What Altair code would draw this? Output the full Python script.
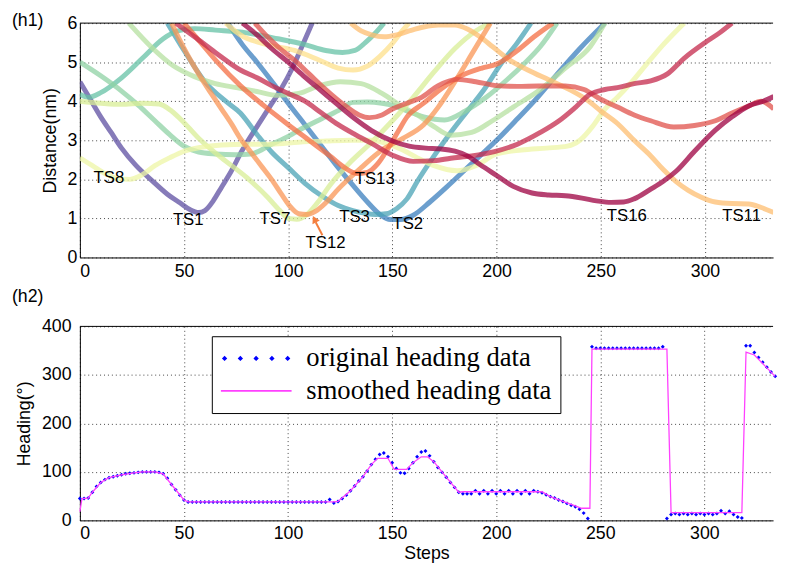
import altair as alt
import pandas as pd

# ---------------- (h1) distance curves: steps / distance (nm) ----------------
TS1_x = [0, 5, 10, 15, 20, 27, 35, 42, 48, 53, 57, 60, 64, 68, 72, 78, 85, 91, 96, 102, 107, 111.5]
TS1_y = [4.5, 4.05, 3.6, 3.2, 2.8, 2.35, 1.95, 1.62, 1.4, 1.22, 1.15, 1.2, 1.45, 1.8, 2.15, 2.75, 3.35, 3.85, 4.26, 4.85, 5.45, 6.0]
TS2_x = [71, 78, 85, 93, 100, 108, 116, 124, 131, 138, 144, 149, 154, 160, 168, 176, 184, 192, 200, 210, 220, 230, 240, 252]
TS2_y = [6.0, 5.45, 5.0, 4.45, 3.95, 3.4, 2.85, 2.3, 1.85, 1.42, 1.1, 0.97, 0.97, 1.08, 1.42, 1.8, 2.2, 2.6, 3.0, 3.55, 4.12, 4.75, 5.35, 6.0]
TS3_x = [42, 50, 60, 70, 77, 85, 92, 100, 108, 116, 124, 131, 137, 142, 147, 152, 157, 162, 170, 178, 186, 194, 202, 210, 216.5]
TS3_y = [6.0, 5.3, 4.5, 4.0, 3.7, 3.15, 2.7, 2.3, 1.9, 1.58, 1.33, 1.2, 1.13, 1.1, 1.12, 1.25, 1.5, 1.95, 2.6, 3.2, 3.75, 4.3, 4.95, 5.5, 6.0]
TS4_x = [0, 4, 10, 20, 30, 40, 47, 55, 65, 80, 95, 108, 118, 126, 132, 137, 141, 146]
TS4_y = [4.18, 4.1, 4.22, 4.6, 5.1, 5.6, 5.8, 5.86, 5.82, 5.75, 5.6, 5.45, 5.3, 5.25, 5.3, 5.5, 5.7, 6.0]
TS5_x = [0, 10, 20, 28, 36, 43, 50, 57, 65, 75, 82, 92, 100, 108, 116, 124, 131, 138, 145, 150, 157, 165, 175, 185, 195, 205, 213, 221, 229]
TS5_y = [5.0, 4.65, 4.26, 3.9, 3.5, 3.15, 2.85, 2.7, 2.65, 2.63, 2.65, 2.9, 3.1, 3.34, 3.55, 3.76, 3.97, 3.98, 3.95, 3.9, 3.75, 3.6, 3.52, 3.75, 4.1, 4.55, 4.95, 5.4, 6.0]
TS6_x = [23.5, 35, 45, 55, 65, 75, 85, 95, 105, 115, 125, 135, 145, 155, 162, 170, 178, 188, 198, 208, 221, 233, 245, 252]
TS6_y = [6.0, 5.35, 4.9, 4.63, 4.45, 4.35, 4.25, 4.15, 4.2, 4.4, 4.5, 4.45, 4.2, 3.85, 3.65, 3.35, 3.13, 3.2, 3.5, 3.85, 4.3, 4.85, 5.4, 6.0]
TS7_x = [0, 10, 20, 30, 38, 44, 50, 58, 68, 80, 90, 96, 100, 104, 109, 114, 120, 130, 140, 150, 160, 170, 180, 190, 197]
TS7_y = [4.0, 3.95, 3.92, 3.95, 3.93, 3.75, 3.45, 3.0, 2.55, 2.05, 1.55, 1.2, 1.0, 0.98, 1.1, 1.4, 1.85, 2.45, 2.95, 3.5, 4.1, 4.75, 5.35, 5.8, 6.0]
TS8_x = [0, 6, 12, 18, 24, 30, 36, 43, 50, 58, 68, 80, 92, 105, 118, 130, 140, 148, 155, 162, 170, 181, 190, 200, 212, 224, 234, 240, 246, 252, 258, 265, 272, 280, 290]
TS8_y = [2.55, 2.35, 2.15, 2.02, 2.0, 2.12, 2.35, 2.55, 2.72, 2.82, 2.88, 2.9, 2.9, 2.95, 2.98, 3.0, 3.0, 2.9, 2.75, 2.55, 2.35, 2.22, 2.35, 2.65, 2.75, 2.8, 2.85, 3.0, 3.35, 3.8, 4.1, 4.5, 4.95, 5.45, 6.0]
TS10_x = [70, 77, 90, 103, 115, 124, 131, 138, 144, 150, 155, 158]
TS10_y = [6.0, 5.7, 5.45, 5.3, 5.05, 4.85, 4.8, 4.9, 5.15, 5.48, 5.82, 6.0]
TS11_x = [130, 135, 140, 146, 152, 158, 165, 172, 180, 186, 192, 198, 205, 215, 225, 235, 243, 250, 258, 266, 274, 280, 286, 292, 298, 305, 313, 321, 327, 333]
TS11_y = [6.0, 5.8, 5.7, 5.65, 5.7, 5.8, 5.9, 5.95, 5.95, 5.85, 5.65, 5.4, 5.1, 4.8, 4.55, 4.3, 4.05, 3.75, 3.43, 3.0, 2.6, 2.25, 1.95, 1.72, 1.55, 1.42, 1.38, 1.37, 1.28, 1.15]
TS12_x = [44, 50, 57, 63, 68, 73, 77, 82, 87, 92, 97, 101, 105, 109, 113, 118, 124, 135, 145, 155, 165, 172, 180, 188, 197]
TS12_y = [6.0, 5.35, 4.7, 4.2, 3.8, 3.4, 3.05, 2.7, 2.35, 2.0, 1.6, 1.3, 1.12, 1.1, 1.18, 1.4, 1.75, 2.3, 2.75, 3.05, 3.4, 3.85, 4.5, 5.2, 6.0]
TS13_x = [50, 58, 66, 77, 88, 100, 110, 120, 127, 133, 138, 143, 148, 153, 157, 165, 173, 183, 193, 200, 210, 218, 227]
TS13_y = [6.0, 5.5, 5.0, 4.4, 3.9, 3.4, 3.0, 2.6, 2.3, 2.15, 2.18, 2.4, 2.8, 3.25, 3.6, 3.95, 4.3, 4.65, 4.85, 4.95, 5.3, 5.65, 6.0]
TS14_x = [84, 90, 96, 103, 110, 118, 127, 134, 139, 145, 150, 157, 164, 172, 181, 190, 200, 210, 220, 233, 242, 250, 258, 266, 274, 285, 295, 305, 313, 321, 327, 333]
TS14_y = [6.0, 5.65, 5.35, 5.05, 4.7, 4.3, 3.9, 3.65, 3.58, 3.65, 3.8, 3.95, 4.1, 4.4, 4.56, 4.5, 4.4, 4.38, 4.39, 4.39, 4.3, 4.05, 3.85, 3.65, 3.5, 3.34, 3.38, 3.5, 3.7, 3.88, 4.0, 3.8]
TS15_x = [46, 55, 65, 77, 85, 92, 100, 108, 116, 124, 132, 140, 150, 160, 170, 178, 188, 199, 210, 221, 230, 238, 245, 252, 258, 266, 274, 282, 290, 300, 307, 313]
TS15_y = [6.0, 5.65, 5.25, 4.8, 4.6, 4.4, 4.2, 4.0, 3.7, 3.4, 3.15, 2.92, 2.62, 2.46, 2.48, 2.54, 2.6, 2.71, 2.9, 3.2, 3.5, 3.85, 4.18, 4.3, 4.35, 4.45, 4.52, 4.7, 5.1, 5.5, 5.75, 6.0]
TS16_x = [78, 85, 92, 100, 108, 116, 124, 132, 140, 150, 158, 166, 173, 180, 186, 192, 200, 208, 217, 225, 233, 241, 248, 255, 261, 266, 274, 280, 286, 295, 305, 313, 321, 328, 333]
TS16_y = [6.0, 5.7, 5.35, 5.0, 4.62, 4.26, 3.9, 3.55, 3.25, 2.98, 2.85, 2.8, 2.78, 2.72, 2.6, 2.38, 2.1, 1.82, 1.65, 1.6, 1.58, 1.52, 1.45, 1.41, 1.42, 1.5, 1.75, 1.95, 2.2, 2.72, 3.26, 3.6, 3.88, 4.0, 4.12]

TS_NAMES = ["TS1", "TS2", "TS3", "TS4", "TS5", "TS6", "TS7", "TS8",
            "TS10", "TS11", "TS12", "TS13", "TS14", "TS15", "TS16"]
TS_X = [TS1_x, TS2_x, TS3_x, TS4_x, TS5_x, TS6_x, TS7_x, TS8_x,
        TS10_x, TS11_x, TS12_x, TS13_x, TS14_x, TS15_x, TS16_x]
TS_Y = [TS1_y, TS2_y, TS3_y, TS4_y, TS5_y, TS6_y, TS7_y, TS8_y,
        TS10_y, TS11_y, TS12_y, TS13_y, TS14_y, TS15_y, TS16_y]
TS_COLORS = ["#5e4fa2", "#3b7fbd", "#4aa3b5", "#66c2a5", "#8fd2a4", "#b5e0a0", "#d8ee96", "#eef6a6",
             "#fee08b", "#fdbe70", "#fa9656", "#f46d43", "#e0524b", "#c42a4c", "#9e0142"]

LABEL_TEXT = ["TS1", "TS8", "TS7", "TS3", "TS13", "TS12", "TS2", "TS16", "TS11"]
LABEL_STEP = [52, 13.9, 93.6, 131.8, 141.5, 117.9, 157.4, 262.5, 317.6]
LABEL_DIST = [0.97, 2.03, 0.99, 1.03, 2.0, 0.37, 0.86, 1.06, 1.06]

ARROW_STEP = [116.4]
ARROW_DIST = [0.57]
ARROW_STEP2 = [113.2]
ARROW_DIST2 = [0.9]
ARROW_HEAD_STEP = [112.6]
ARROW_HEAD_DIST = [0.98]

# ---------------- (h2) heading data ----------------
ORIG_STEP = list(range(0, 335, 2))
ORIG_HEADING = [
    45, 45, 46, 58, 70, 78, 84, 88, 90, 92,            # 0-18
    94, 96, 97, 98, 99, 100, 100, 100, 100, 99,        # 20-38
    96, 87, 74, 63, 52, 42, 38, 38, 38, 38,            # 40-58
    38, 38, 38, 38, 38, 38, 38, 38, 38, 38,            # 60-78
    38, 38, 38, 38, 38, 38, 38, 38, 38, 38,            # 80-98
    38, 38, 38, 38, 38, 38, 38, 38, 38, 38,            # 100-118
    43, 36, 39, 45, 52, 61, 71, 81, 90, 102,           # 120-138
    115, 126, 136, 139, 131, 119, 107, 98, 97, 107,    # 140-158
    119, 131, 141, 143, 133, 121, 109, 99, 89, 78,     # 160-178
    68, 58, 55, 55, 55, 61, 55, 61, 55, 61,            # 180-198
    55, 61, 55, 61, 55, 61, 55, 61, 55, 61,            # 200-218
    59, 57, 53, 49, 46, 42, 39, 35, 31, 28,            # 220-238
    23, 15, 4, 358, 355, 355, 355, 355, 355, 355,      # 240-258
    355, 355, 355, 355, 355, 355, 355, 355, 355, 355,  # 260-278
    358, 4, 12, 14, 12, 14, 12, 14, 12, 14,            # 280-298
    12, 14, 12, 14, 20, 14, 19, 12, 7, 5,              # 300-318
    360, 360, 346, 336, 326, 316, 306, 297,            # 320-334
]
SMOOTH_STEP = [0, 1, 4, 6, 10, 14, 20, 26, 30, 36, 40, 44, 50, 52, 122, 124, 130, 136, 140, 143, 148,
               151, 157, 160, 164, 167, 170, 176, 182, 184, 222, 226, 232, 238, 241, 245, 246, 282,
               284, 318, 320, 324, 334]
SMOOTH_HEADING = [18, 45, 46, 58, 78, 88, 94, 98, 100, 100, 96, 74, 42, 38, 38, 39, 61, 90, 115, 128, 128,
                  105, 105, 119, 131, 131, 121, 89, 58, 59, 59, 49, 39, 30, 25, 25, 353, 353,
                  16, 16, 347, 341, 297]
SERIES = ["original heading data", "smoothed heading data"]

# ---------------- tables ----------------
rows = []
for k, (name, xs, ys) in enumerate(zip(TS_NAMES, TS_X, TS_Y)):
    for x, y in zip(xs, ys):
        rows.append({"ts": name, "k": k, "step": x, "dist": y})
dist_df = pd.DataFrame(rows)
label_df = pd.DataFrame({"text": LABEL_TEXT, "step": LABEL_STEP, "dist": LABEL_DIST})
arrow_df = pd.DataFrame({"step": ARROW_STEP, "dist": ARROW_DIST, "step2": ARROW_STEP2, "dist2": ARROW_DIST2})
head_df = pd.DataFrame({"step": ARROW_HEAD_STEP, "dist": ARROW_HEAD_DIST})
orig_df = pd.DataFrame({"step": ORIG_STEP, "heading": ORIG_HEADING, "series": SERIES[0]})
smooth_df = pd.DataFrame({"step": SMOOTH_STEP, "heading": SMOOTH_HEADING})
one_df = pd.DataFrame({"a": [0]})

W = 704
H1 = 238
H2 = 197
FONT = "Liberation Sans"

# ---------------- top panel ----------------
xs_top = alt.Scale(domain=[0, 332.7], nice=False, zero=False)
ys_top = alt.Scale(domain=[0, 6], nice=False)
x_top = alt.X("step:Q", scale=xs_top,
              axis=alt.Axis(values=[0, 50, 100, 150, 200, 250, 300], title=None, labelPadding=5))
y_top = alt.Y("dist:Q", scale=ys_top,
              axis=alt.Axis(values=[0, 1, 2, 3, 4, 5, 6], title="Distance(nm)", labelPadding=3,
                            titlePadding=8, labelOverlap=False))

lines = alt.Chart(dist_df).mark_line(strokeWidth=5, opacity=0.75, interpolate="monotone", clip=True).encode(
    x=x_top, y=y_top,
    color=alt.Color("ts:N", scale=alt.Scale(domain=TS_NAMES, range=TS_COLORS), legend=None),
    detail="k:N",
)
labels = alt.Chart(label_df).mark_text(font=FONT, fontSize=17, color="black", align="center", baseline="middle").encode(
    x=x_top, y=y_top, text="text:N")
arrow = alt.Chart(arrow_df).mark_rule(color="#f47f3f", strokeWidth=2).encode(
    x=x_top, y=y_top, x2="step2:Q", y2="dist2:Q")
head = alt.Chart(head_df).mark_point(shape="triangle-up", filled=True, size=70, angle=333,
                                     color="#f47f3f", opacity=1).encode(x=x_top, y=y_top)
border_top = alt.Chart(one_df).mark_rule(color="black", strokeWidth=1).encode(
    x=alt.value(0), x2=alt.value(W), y=alt.value(0))

top = alt.layer(lines, labels, arrow, head, border_top).properties(
    width=W, height=H1,
    title=alt.TitleParams("(h1)", anchor="start", frame="group", dx=-69, offset=-34, baseline="bottom",
                          fontSize=18, fontWeight="normal", font=FONT, color="black"),
)

# ---------------- bottom panel ----------------
xs_bot = alt.Scale(domain=[0, 333], nice=False, zero=False)
ys_bot = alt.Scale(domain=[0, 400], nice=False)
x_bot = alt.X("step:Q", scale=xs_bot,
              axis=alt.Axis(values=[0, 50, 100, 150, 200, 250, 300], title="Steps", labelPadding=4, titlePadding=3))
y_bot = alt.Y("heading:Q", scale=ys_bot,
              axis=alt.Axis(values=[0, 100, 200, 300, 400], title="Heading(°)", labelPadding=9,
                            titlePadding=8, labelOverlap=False))

DIAMONDS = ("M-0.965,0L-0.89,-0.075L-0.815,0L-0.89,0.075Z"
            "M-0.52,0L-0.445,-0.075L-0.37,0L-0.445,0.075Z"
            "M-0.075,0L0,-0.075L0.075,0L0,0.075Z"
            "M0.37,0L0.445,-0.075L0.52,0L0.445,0.075Z"
            "M0.815,0L0.89,-0.075L0.965,0L0.89,0.075Z")
BAR = "M-1,-0.022L1,-0.022L1,0.022L-1,0.022Z"
sym_expr = "datum.value === 'original heading data' ? '" + DIAMONDS + "' : '" + BAR + "'"

points = alt.Chart(orig_df).mark_point(shape="diamond", filled=True, size=16, opacity=1).encode(
    x=x_bot, y=y_bot,
    color=alt.Color("series:N", scale=alt.Scale(domain=SERIES, range=["#0000ff", "#ff40ff"]),
                    legend=alt.Legend(title=None, orient="none", legendX=134, legendY=10,
                                      strokeColor="black", fillColor="white", padding=9,
                                      labelFont="Liberation Serif", labelFontSize=27, labelColor="black",
                                      labelOffset=15, rowPadding=5, labelLimit=500, clipHeight=27,
                                      symbolSize=5184, symbolStrokeWidth=0,
                                      symbolType=alt.ExprRef(expr=sym_expr))),
)
smooth = alt.Chart(smooth_df).mark_line(color="#ff40ff", strokeWidth=1.3).encode(x=x_bot, y=y_bot)
border_top2 = alt.Chart(one_df).mark_rule(color="black", strokeWidth=1).encode(
    x=alt.value(0), x2=alt.value(W), y=alt.value(0))

bottom = alt.layer(points, smooth, border_top2).properties(
    width=W, height=H2,
    title=alt.TitleParams("(h2)", anchor="start", frame="group", dx=-69, offset=-6, baseline="bottom",
                          fontSize=18, fontWeight="normal", font=FONT, color="black"),
)

chart = alt.vconcat(top, bottom, spacing=8).resolve_scale(
    color="independent", x="independent", y="independent"
).properties(
    padding={"left": 4, "top": 0, "right": 0, "bottom": 0}
).configure_view(stroke=None).configure_axis(
    labelFont=FONT, labelFontSize=18, labelColor="black",
    titleFont=FONT, titleFontSize=18, titleFontWeight="normal", titleColor="black",
    domainColor="black", domainWidth=1, ticks=False,
    grid=True, gridColor="#444444", gridDash=[1, 3], gridWidth=1, gridOpacity=1,
)

chart.save("out.html", embed_options={"renderer": "svg", "actions": False})
